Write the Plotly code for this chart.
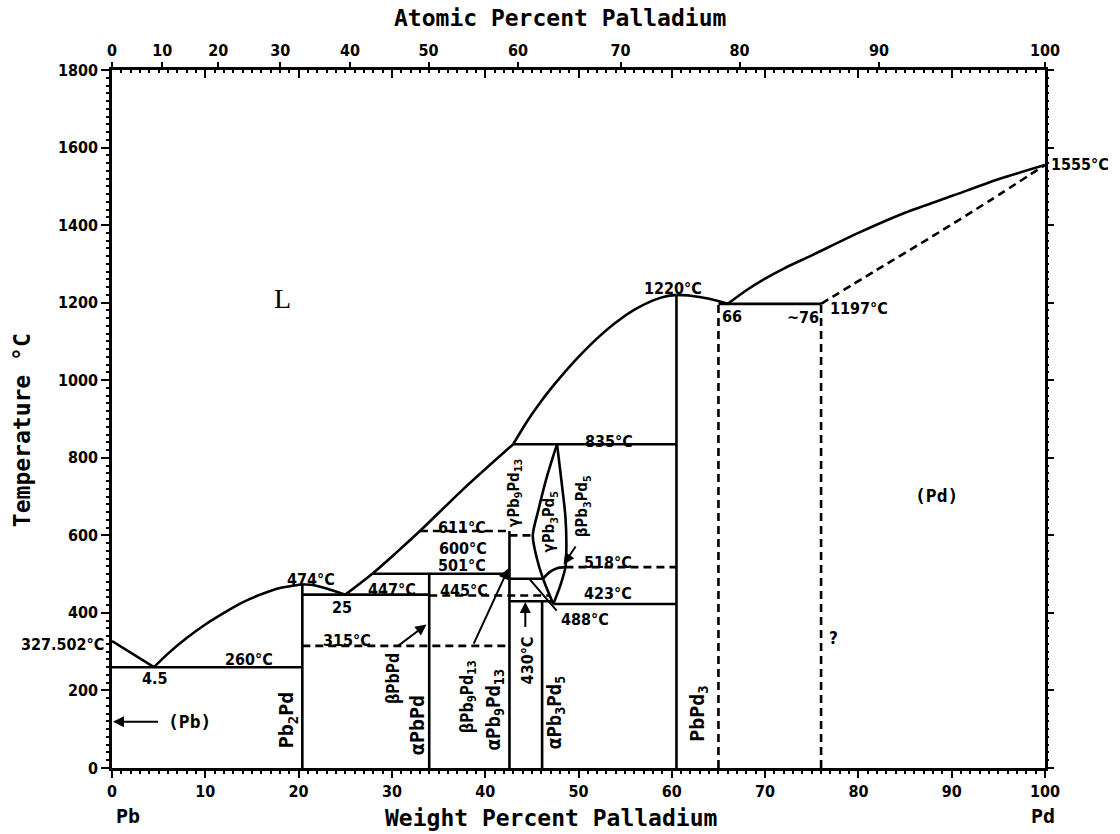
import plotly.graph_objects as go

# ---- Pb-Pd phase diagram, compositions in wt.% Pd, temperatures in °C ----

# compound compositions and invariant compositions (wt.% Pd)
x_pb2pd = 20.4
x_pbpd = 34.0
x_pb9pd13 = 42.6
x_pb3pd5 = 46.1
x_pbpd3 = 60.5
x_eut_pb = 4.5
x_eut_25 = 25.0
x_min_pd = 66.0
x_pd_sol = 76.0
x_pd_dash = 65.0

# invariant temperatures (°C)
t_pb_melt = 327.502
t_260 = 260
t_474 = 474
t_447 = 447
t_445 = 445
t_501 = 501
t_600 = 600
t_611 = 611
t_315 = 315
t_835 = 835
t_518 = 518
t_488 = 488
t_430 = 430
t_423 = 423
t_1220 = 1220
t_1197 = 1197
t_pd_melt = 1555

# liquidus and solidus curves
liq_pb_x = [0, x_eut_pb]
liq_pb_t = [t_pb_melt, t_260]

liq_pb2pd_l_x = [x_eut_pb, 6, 8, 10, 12, 14, 16, 18, x_pb2pd]
liq_pb2pd_l_t = [t_260, 295, 335, 370, 400, 427, 448, 464, t_474]

liq_pb2pd_r_x = [x_pb2pd, 21.5, 23, x_eut_25]
liq_pb2pd_r_t = [t_474, 472, 463, t_447]

liq_mid_x = [x_eut_25, 27.9, 30.5, 33.0, 37.6, 43.0]
liq_mid_t = [t_447, t_501, 556, t_611, 718, t_835]

liq_pbpd3_l_x = [43.0, 44, 45, 46, 47, 48, 50, 52, 54, 56, 58, 59.3, x_pbpd3]
liq_pbpd3_l_t = [t_835, 875, 912, 946, 977, 1006, 1060, 1108, 1149, 1182, 1206, 1216,
                 t_1220]

liq_pbpd3_r_x = [x_pbpd3, 62, 64, x_min_pd]
liq_pbpd3_r_t = [t_1220, 1218, 1210, t_1197]

liq_pd_x = [x_min_pd, 68, 70, 72, 75, 80, 85, 90, 95, 100]
liq_pd_t = [t_1197, 1232, 1262, 1288, 1322, 1380, 1432, 1475, 1518, t_pd_melt]

sol_pd_x = [x_pd_sol, 82, 88, 94, 100]
sol_pd_t = [t_1197, 1285, 1372, 1462, t_pd_melt]

# gamma-Pb3Pd5 field
lens_l_x = [47.7, 46.6, 45.7, 45.1, 45.5, 46.2, 47.3]
lens_l_t = [t_835, 750, 665, t_600, 544, t_488, t_423]
lens_r_x = [47.7, 48.2, 48.6, 48.7, 48.6, 48.0, 47.3]
lens_r_t = [t_835, 735, 647, 570, t_518, 467, t_423]

# beta-Pb3Pd5 boundary
beta35_x = [46.2, 46.9, 47.7, 48.6]
beta35_t = [t_488, 505, 515, t_518]

# horizontal invariants: (temperature, from, to)
iso_solid = [
    (t_260, 0, x_pb2pd),
    (t_447, x_pb2pd, x_pbpd),
    (t_501, 27.9, x_pb9pd13),
    (t_488, x_pb9pd13, 46.2),
    (t_430, x_pb9pd13, 47.1),
    (t_423, 47.3, x_pbpd3),
    (t_835, 43.0, x_pbpd3),
    (t_1197, x_pd_dash, x_pd_sol),
]
iso_dashed = [
    (t_315, x_pb2pd, x_pb9pd13),
    (t_445, x_pbpd, 46.9),
    (t_611, 33.0, x_pb9pd13),
    (t_600, x_pb9pd13, 45.1),
    (t_518, 48.6, x_pbpd3),
]

# vertical phase lines: (composition, bottom, top)
vert_solid = [
    (x_pb2pd, 0, t_474),
    (x_pbpd, 0, t_501),
    (x_pb9pd13, 0, t_611),
    (x_pb3pd5, 0, t_430),
    (x_pbpd3, 0, t_1220),
]
vert_dashed = [
    (x_pd_dash, 0, t_1197),
    (x_pd_sol, 0, t_1197),
]

# top axis: atomic percent labels
at_pct_ticks = [0, 10, 20, 30, 40, 50, 60, 70, 80, 90, 100]
M_PD = 106.42
M_PB = 207.2


def at_to_wt(a):
    return 100.0 * a * M_PD / (a * M_PD + (100.0 - a) * M_PB)


LW = 2.6
fig = go.Figure()


def add_line(xs, ts, dash="solid", smooth=False, width=LW):
    fig.add_trace(go.Scatter(
        x=xs, y=ts, mode="lines",
        line=dict(color="black", width=width, dash=dash,
                  shape="spline" if smooth else "linear", smoothing=0.8),
        hoverinfo="skip", showlegend=False))


# liquidus / solidus
add_line(liq_pb_x, liq_pb_t)
add_line(liq_pb2pd_l_x, liq_pb2pd_l_t, smooth=True)
add_line(liq_pb2pd_r_x, liq_pb2pd_r_t, smooth=True)
add_line(liq_mid_x, liq_mid_t, smooth=True)
add_line(liq_pbpd3_l_x, liq_pbpd3_l_t, smooth=True)
add_line(liq_pbpd3_r_x, liq_pbpd3_r_t, smooth=True)
add_line(liq_pd_x, liq_pd_t, smooth=True)
add_line(sol_pd_x, sol_pd_t, dash="8px,5px", smooth=True)

add_line(lens_l_x, lens_l_t, smooth=True)
add_line(lens_r_x, lens_r_t, smooth=True)
add_line(beta35_x, beta35_t, smooth=True)

for t, x0, x1 in iso_solid:
    add_line([x0, x1], [t, t])
for t, x0, x1 in iso_dashed:
    add_line([x0, x1], [t, t], dash="8px,5px")
for x, t0, t1 in vert_solid:
    add_line([x, x], [t0, t1])
for x, t0, t1 in vert_dashed:
    add_line([x, x], [t0, t1], dash="8px,5px")

# empty traces so the extra axes are drawn
fig.add_trace(go.Scatter(x=[], y=[], xaxis="x2", yaxis="y", showlegend=False))
fig.add_trace(go.Scatter(x=[], y=[], xaxis="x3", yaxis="y", showlegend=False))
fig.add_trace(go.Scatter(x=[], y=[], xaxis="x", yaxis="y2", showlegend=False))

LBL = "DejaVu Sans Condensed, Liberation Sans Narrow, DejaVu Sans"
MONO = "DejaVu Sans Mono, Liberation Mono, monospace"


def label(text, x, y, size=16, angle=0, xanchor="center", family=LBL, bold=True,
          xref="x"):
    fig.add_annotation(
        x=x, y=y, xref=xref, yref="y",
        text=("<b>%s</b>" % text) if bold else text,
        showarrow=False, textangle=angle, xanchor=xanchor, yanchor="middle",
        font=dict(family=family, size=size, color="black"))


def pointer(x0, y0, x1, y1, head=2):
    fig.add_annotation(
        x=x1, y=y1, ax=x0, ay=y0, xref="x", yref="y", axref="x", ayref="y",
        text="", showarrow=True, arrowhead=head, arrowsize=1.1,
        arrowwidth=2, arrowcolor="black", standoff=0, startstandoff=0)


# temperature / composition labels
label("327.502°C", -0.006, 318, xanchor="right", xref="paper")
label("4.5", 4.6, 232)
label("260°C", 14.7, 281)
label("474°C", 21.3, 487)
label("25", 24.7, 415)
label("447°C", 30.0, 461)
label("445°C", 37.7, 459)
label("501°C", 37.5, 521)
label("600°C", 37.6, 567)
label("611°C", 37.5, 621)
label("315°C", 25.2, 330)
label("835°C", 53.3, 843)
label("518°C", 53.2, 531)
label("423°C", 53.2, 449)
label("488°C", 50.7, 384)
label("1220°C", 60.1, 1237)
label("66", 66.5, 1165)
label("~76", 74.1, 1163)
label("1197°C", 80.1, 1186)
label("1555°C", 1.004, 1557, xanchor="left", xref="paper")
label("?", 77.3, 335, size=17)

# phase field names
label("L", 18.3, 1212, size=28, family="Liberation Serif, DejaVu Serif", bold=False)
label("(Pd)", 88.4, 704, size=18, family=MONO)
label("(Pb)", 8.3, 119, size=18, family=MONO)

label("Pb<sub>2</sub>Pd", 18.8, 124, size=20, angle=-90, family=MONO)
label("βPbPd", 30.1, 232, size=17, angle=-90, family=MONO)
label("αPbPd", 32.7, 111, size=20, angle=-90, family=MONO)
label("βPb<sub>9</sub>Pd<sub>13</sub>", 38.2, 184, size=17, angle=-90, family=MONO)
label("αPb<sub>9</sub>Pd<sub>13</sub>", 41.0, 150, size=19, angle=-90, family=MONO)
label("430°C", 44.5, 278, size=16, angle=-90)
label("αPb<sub>3</sub>Pd<sub>5</sub>", 47.6, 142, size=19, angle=-90, family=MONO)
label("PbPd<sub>3</sub>", 62.8, 142, size=20, angle=-90, family=MONO)
label("γPb<sub>9</sub>Pd<sub>13</sub>", 43.1, 709, size=16, angle=-90, family=MONO)
label("γPb<sub>3</sub>Pd<sub>5</sub>", 46.9, 634, size=16, angle=-90, family=MONO)
label("βPb<sub>3</sub>Pd<sub>5</sub>", 50.5, 676, size=16, angle=-90, family=MONO)

# leaders and arrows
pointer(5.1, 119, 0.1, 119)
pointer(30.5, 312, 33.7, 370)
pointer(38.7, 317, 42.5, 515)
pointer(44.3, 360, 44.3, 428)
pointer(47.8, 402, 44.8, 486, head=0)
pointer(49.8, 575, 48.4, 525)

# axis titles and end-member labels
TITLE = dict(family=MONO, size=23, color="black")
fig.add_annotation(text="<b>Weight Percent Palladium</b>", xref="paper", yref="paper",
                   x=0.47, y=-0.071, showarrow=False, font=TITLE, yanchor="middle")
fig.add_annotation(text="<b>Atomic Percent Palladium</b>", xref="paper", yref="paper",
                   x=0.48, y=1.0745, showarrow=False, font=TITLE, yanchor="middle")
fig.add_annotation(text="<b>Temperature °C</b>", xref="paper", yref="paper",
                   x=-0.0965, y=0.484, showarrow=False, font=TITLE, textangle=-90,
                   xanchor="center", yanchor="middle")
fig.add_annotation(text="<b>Pb</b>", xref="x", yref="paper", x=1.7, y=-0.069,
                   yanchor="middle", showarrow=False,
                   font=dict(family=MONO, size=20, color="black"))
fig.add_annotation(text="<b>Pd</b>", xref="x", yref="paper", x=99.8, y=-0.069,
                   yanchor="middle", showarrow=False,
                   font=dict(family=MONO, size=20, color="black"))

TICKF = dict(family=LBL, size=16, color="black", weight="bold")
AX = dict(showgrid=False, zeroline=False, linecolor="black", linewidth=2.6,
          tickcolor="black", tickwidth=2)

fig.update_layout(
    width=1120, height=834,
    margin=dict(l=112, r=75, t=70, b=66),
    plot_bgcolor="white", paper_bgcolor="white",
    showlegend=False,
    xaxis=dict(range=[0, 100], tickmode="linear", tick0=0, dtick=10,
               ticks="outside", ticklen=7, showline=True, mirror=True,
               tickfont=TICKF,
               minor=dict(dtick=1, ticks="outside", ticklen=3, tickwidth=1.6,
                          tickcolor="black"),
               **AX),
    xaxis3=dict(range=[0, 100], overlaying="x", side="top", anchor="y",
                tickmode="linear", tick0=0, dtick=10, ticks="inside", ticklen=8,
                showticklabels=False, showline=False,
                minor=dict(dtick=1, ticks="inside", ticklen=3, tickwidth=1.6,
                           tickcolor="black"),
                **AX),
    xaxis2=dict(range=[0, 100], overlaying="x", side="top", anchor="y",
                tickmode="array", tickvals=[at_to_wt(a) for a in at_pct_ticks],
                ticktext=[str(a) for a in at_pct_ticks],
                ticks="outside", ticklen=7, showline=False, tickfont=TICKF,
                **AX),
    yaxis=dict(range=[0, 1800], tickmode="linear", tick0=0, dtick=200,
               ticks="outside", ticklen=8, showline=True, mirror=True,
               tickfont=TICKF,
               minor=dict(dtick=20, ticks="outside", ticklen=3, tickwidth=1.6,
                          tickcolor="black"),
               **AX),
    yaxis2=dict(range=[0, 1800], overlaying="y", side="right", anchor="x",
                tickmode="linear", tick0=0, dtick=200, ticks="outside", ticklen=8,
                showticklabels=False, showline=False,
                minor=dict(dtick=20, ticks="outside", ticklen=3, tickwidth=1.6,
                           tickcolor="black"),
                **AX),
)

fig.write_html("out.html")
